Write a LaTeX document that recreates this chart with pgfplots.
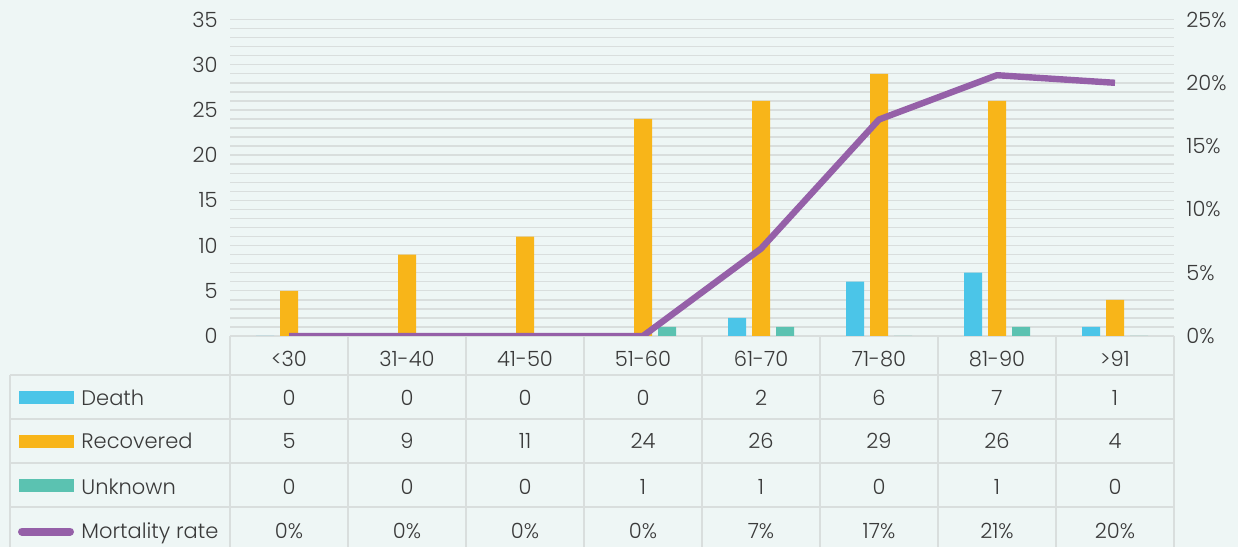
\documentclass[border=0pt]{standalone}
\usepackage{fontspec}
\setmainfont{Poppins}[UprightFont=* Light]
\usepackage{pgfplots}
\usepackage{pgfplotstable}
\pgfplotsset{compat=1.18}
\definecolor{bg}{HTML}{EEF6F5}
\definecolor{gridc}{HTML}{D9DEDD}
\definecolor{txt}{HTML}{3A3A3A}
\definecolor{cdeath}{HTML}{4BC5E8}
\definecolor{crec}{HTML}{F8B519}
\definecolor{cunk}{HTML}{5BC2B1}
\definecolor{cmort}{HTML}{9560A8}

\pgfplotstableread{
x death rec unk mort
0 0 5 0 0
1 0 9 0 0
2 0 11 0 0
3 0 24 1 0
4 2 26 1 6.9
5 6 29 0 17.1
6 7 26 1 20.6
7 1 4 0 20.0
}\data

\begin{document}
\begin{tikzpicture}[font=\fontsize{10.5}{12}\selectfont]
\begin{scope}[x=0.5pt,y=0.5pt]
\fill[bg] (0,0) rectangle (1238,547);
\end{scope}
\begin{axis}[
  at={(115pt,105.5pt)}, anchor=south west,
  scale only axis, width=472pt, height=158.25pt,
  xmin=-0.5, xmax=7.5, ymin=0, ymax=35,
  xtick=\empty,
  ytick={0,5,...,35}, minor y tick num=4,
  ymajorgrids, yminorgrids,
  major grid style={gridc, line width=0.7pt},
  minor grid style={gridc, line width=0.7pt},
  axis line style={draw=none}, tick style={draw=none},
  major tick length=0pt, minor tick length=0pt,
  yticklabel style={inner sep=0pt, xshift=-6pt, text=txt, anchor=east},
  /pgf/number format/assume math mode=true,
]
\addplot[ybar, bar width=9pt, bar shift=-12pt, fill=cdeath, draw=none] table[x=x,y=death]{\data};
\addplot[ybar, bar width=9pt, bar shift=0pt, fill=crec, draw=none] table[x=x,y=rec]{\data};
\addplot[ybar, bar width=9pt, bar shift=12pt, fill=cunk, draw=none] table[x=x,y=unk]{\data};
\end{axis}
\begin{axis}[
  at={(115pt,105.5pt)}, anchor=south west,
  scale only axis, width=472pt, height=158.25pt,
  xmin=-0.5, xmax=7.5, ymin=0, ymax=25,
  hide x axis, yticklabel pos=right,
  ytick={0,5,...,25},
  axis line style={draw=none}, tick style={draw=none},
  major tick length=0pt,
  yticklabel={\pgfmathprintnumber{\tick}\%},
  yticklabel style={inner sep=0pt, xshift=6pt, text=txt, anchor=west},
  /pgf/number format/assume math mode=true,
]
\addplot[cmort, line width=3.2pt, line join=round, mark=none] table[x=x,y=mort]{\data};
\end{axis}
\begin{scope}[x=0.5pt,y=0.5pt]
% table grid
\begin{scope}[gridc, line width=1pt]
\foreach \k in {0,...,8} \draw ({230+118*\k},211) -- ({230+118*\k},0);
\foreach \yy in {172,128,84,40} \draw (10,\yy) -- (1174,\yy);
\draw (10,172) -- (10,0);
\end{scope}
% legend keys
\fill[cdeath] (19,143) rectangle (74,156);
\fill[crec] (19,99) rectangle (74,112);
\fill[cunk] (19,55) rectangle (74,68);
\draw[cmort, line width=4pt, line cap=round] (22,15.5) -- (70,15.5);
\begin{scope}[every node/.style={text=txt, inner sep=0pt}]
\node[anchor=base west] at (81,141) {Death};
\node[anchor=base west] at (81,98) {Recovered};
\node[anchor=base west] at (81,53) {Unknown};
\node[anchor=base west] at (81,9) {Mortality rate};
\foreach \c [count=\i from 0] in {{<30},31-40,41-50,51-60,61-70,71-80,81-90,{>91}}
  \node[anchor=base] at ({289+118*\i},180) {\c};
\foreach \i in {0,...,7} {
  \pgfplotstablegetelem{\i}{death}\of\data \edef\vd{\pgfplotsretval}
  \pgfplotstablegetelem{\i}{rec}\of\data \edef\vr{\pgfplotsretval}
  \pgfplotstablegetelem{\i}{unk}\of\data \edef\vu{\pgfplotsretval}
  \pgfplotstablegetelem{\i}{mort}\of\data \edef\vm{\pgfplotsretval}
  \pgfmathtruncatemacro\pm{round(\vm)}
  \node[anchor=base] at ({289+118*\i},141) {\vd};
  \node[anchor=base] at ({289+118*\i},98) {\vr};
  \node[anchor=base] at ({289+118*\i},53) {\vu};
  \node[anchor=base] at ({289+118*\i},9) {\pm\%};
}
\end{scope}
\end{scope}
\pgfresetboundingbox
\useasboundingbox (0,0) rectangle (619pt,273.5pt);
\end{tikzpicture}
\end{document}
